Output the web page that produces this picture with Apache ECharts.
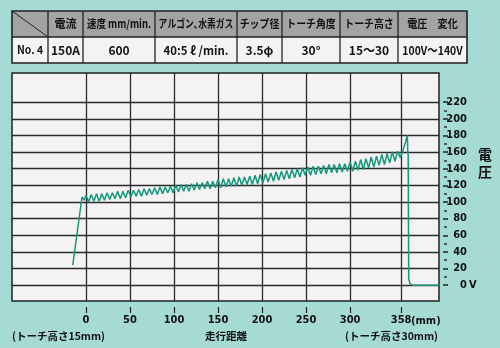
<!DOCTYPE html>
<html><head><meta charset="utf-8">
<script src="https://cdn.jsdelivr.net/npm/echarts@6/dist/echarts.min.js"></script>
<style>html,body{margin:0;padding:0;background:#a6dbd3;}#c{width:500px;height:348px;}</style>
</head><body><div id="c"></div>
<script>
// ---- data ----
const xTicks = [0, 50, 100, 150, 200, 250, 300, 358];
const yTicks = [0, 20, 40, 60, 80, 100, 120, 140, 160, 180, 200, 220];
const yMinorTicks = [10, 30, 50, 70, 90, 110, 130, 150, 170, 190, 210];
const headerTexts = ['', '電流', '速度 mm/min.', 'アルゴン､水素ガス', 'チップ径', 'トーチ角度', 'トーチ高さ', '電圧　変化'];
const rowTexts = ['No. 4', '150A', '600', '40:5 ℓ /min.', '3.5φ', '30°', '15〜30', '100V〜140V'];
const distance = [
  -15, -4.5, -2,
  0, 3, 6, 9, 12, 15, 18, 21, 24, 27,
  30, 33, 36, 39, 42, 45, 48, 51, 54, 57,
  60, 63, 66, 69, 72, 75, 78, 81, 84, 87,
  90, 93, 96, 99, 102, 105, 108, 111, 114, 117,
  120, 123, 126, 129, 132, 135, 138, 141, 144, 147,
  150, 153, 156, 159, 162, 165, 168, 171, 174, 177,
  180, 183, 186, 189, 192, 195, 198, 201, 204, 207,
  210, 213, 216, 219, 222, 225, 228, 231, 234, 237,
  240, 243, 246, 249, 252, 255, 258, 261, 264, 267,
  270, 273, 276, 279, 282, 285, 288, 291, 294, 297,
  300, 303, 306, 309, 312, 315, 318, 321, 324, 327,
  330, 333, 336, 339, 342, 345, 348, 351, 354, 357,
  360, 363, 365, 365.6, 366, 366.6, 368, 370.5, 401
];
const voltage = [
  24, 106, 102,
  108, 100, 109, 101, 110, 101, 110, 102, 111, 103,
  111, 104, 113, 104, 113, 105, 114, 106, 114, 107,
  115, 107, 116, 108, 116, 109, 117, 109, 118, 110,
  118, 111, 119, 111, 120, 112, 121, 113, 121, 113,
  122, 114, 123, 115, 123, 116, 125, 116, 125, 117,
  127, 117, 128, 118, 128, 119, 129, 119, 130, 120,
  130, 121, 131, 121, 132, 122, 133, 123, 134, 124,
  135, 125, 136, 126, 137, 127, 138, 128, 139, 129,
  140, 130, 141, 132, 142, 132, 143, 133, 143, 134,
  144, 134, 145, 135, 145, 135, 146, 136, 146, 137,
  148, 137, 149, 138, 151, 139, 152, 141, 154, 142,
  155, 144, 157, 145, 158, 147, 160, 149, 161, 153,
  162, 172, 180, 160, 156, 8, 2, 0, 0
];

const NUMFONT = '"DejaVu Sans Condensed", "Liberation Sans", sans-serif';
const JPFONT = '"Noto Sans CJK JP", sans-serif';
const chart = echarts.init(document.getElementById('c'));
const colX = [12, 48, 83, 155, 237, 282, 340, 398, 467];
const tTop = 11, tMid = 37, tBot = 63;
const g = [];
g.push({type:'rect', shape:{x:colX[0], y:tTop, width:colX[8]-colX[0], height:tMid-tTop}, style:{fill:'#a3a3a3'}});
g.push({type:'rect', shape:{x:colX[0], y:tMid, width:colX[8]-colX[0], height:tBot-tMid}, style:{fill:'#f4f3f4'}});
g.push({type:'line', shape:{x1:colX[0], y1:tMid, x2:colX[8], y2:tMid}, style:{stroke:'#222', lineWidth:1.3}});
for (let i = 1; i < colX.length - 1; i++) {
  g.push({type:'line', shape:{x1:colX[i], y1:tTop, x2:colX[i], y2:tBot}, style:{stroke:'#222', lineWidth:1.3}});
}
g.push({type:'line', shape:{x1:colX[0], y1:tTop, x2:colX[1], y2:tMid}, style:{stroke:'#222', lineWidth:1}});
g.push({type:'rect', shape:{x:colX[0], y:tTop, width:colX[8]-colX[0], height:tBot-tTop}, style:{fill:null, stroke:'#222', lineWidth:1.6}});
const headScale = [1, 1, 0.86, 0.8, 0.9, 0.9, 0.9, 0.92];
const rowScale = [0.95, 1, 1, 0.95, 1, 1, 1, 0.87];
for (let i = 0; i < headerTexts.length; i++) {
  const cx = (colX[i] + colX[i+1]) / 2;
  if (headerTexts[i]) {
    g.push({type:'text', x:cx, y:(tTop+tMid)/2, scaleX: headScale[i],
      style:{text:headerTexts[i], fill:'#111', font:'bold 11px ' + JPFONT, align:'center', verticalAlign:'middle'}});
  }
  g.push({type:'text', x:cx, y:(tMid+tBot)/2, scaleX: rowScale[i],
    style:{text:rowTexts[i], fill:'#111', font:(i===0?'bold 11px ':'bold 12px ') + JPFONT, align:'center', verticalAlign:'middle'}});
}
g.push({type:'text', x:485, y:163, style:{text:'電\n圧', fill:'#111', font:'bold 14px ' + JPFONT, lineHeight:17, align:'center', verticalAlign:'middle'}});
g.push({type:'text', x:469, y:285, style:{text:'V', fill:'#111', font:'bold 11px ' + NUMFONT, align:'left', verticalAlign:'middle'}});
g.push({type:'text', x:411, y:321, style:{text:'(mm)', fill:'#111', font:'bold 11px ' + NUMFONT, align:'left', verticalAlign:'middle'}});
g.push({type:'text', x:12, y:336, style:{text:'(トーチ高さ15mm)', fill:'#111', font:'bold 10.5px ' + JPFONT, align:'left', verticalAlign:'middle'}});
g.push({type:'text', x:226, y:336, style:{text:'走行距離', fill:'#111', font:'bold 10.5px ' + JPFONT, align:'center', verticalAlign:'middle'}});
g.push({type:'text', x:345, y:336, style:{text:'(トーチ高さ30mm)', fill:'#111', font:'bold 10.5px ' + JPFONT, align:'left', verticalAlign:'middle'}});

const gridLineData = xTicks.map(v => ({xAxis: v})).concat(yTicks.map(v => ({yAxis: v})));

chart.setOption({
  backgroundColor: '#a6dbd3',
  animation: false,
  grid: {left: 12, right: 61, top: 73, bottom: 47, show: true, backgroundColor: '#f5f2f4', borderColor: '#222', borderWidth: 1.5},
  xAxis: {
    type: 'value', min: -84, max: 401, offset: 6,
    axisLine: {show: false, onZero: false},
    axisTick: {show: true, length: 6, customValues: xTicks, lineStyle: {color: '#222', width: 1.2}},
    axisLabel: {customValues: xTicks, margin: 4, color: '#111', fontFamily: NUMFONT, fontSize: 11, fontWeight: 'bold', padding: [4, 0, 0, 0]},
    splitLine: {show: false}
  },
  yAxis: [{
    type: 'value', min: -19, max: 255, position: 'right', offset: 4,
    axisLine: {show: false, onZero: false},
    axisTick: {show: true, length: 5, customValues: yTicks, lineStyle: {color: '#222', width: 1.5}},
    axisLabel: {customValues: yTicks, align: 'right', margin: 24, color: '#111', fontFamily: NUMFONT, fontSize: 11, fontWeight: 'bold'},
    splitLine: {show: false}
  }, {
    type: 'value', min: -19, max: 255, position: 'right', offset: 5,
    axisLine: {show: false, onZero: false},
    axisTick: {show: true, length: 3, customValues: yMinorTicks, lineStyle: {color: '#333', width: 1.5}},
    axisLabel: {show: false},
    splitLine: {show: false}
  }],
  series: [{
    type: 'line', yAxisIndex: 0, data: [], z: 1, silent: true,
    markLine: {silent: true, symbol: 'none', label: {show: false}, animation: false,
      lineStyle: {color: '#2a2a2a', width: 1.3, type: 'solid'}, data: gridLineData}
  }, {
    type: 'line', yAxisIndex: 0, showSymbol: false, symbol: 'none', z: 5,
    data: distance.map((d, i) => [d, voltage[i]]),
    lineStyle: {color: '#14977b', width: 1.5}
  }],
  graphic: g
});
</script></body></html>
